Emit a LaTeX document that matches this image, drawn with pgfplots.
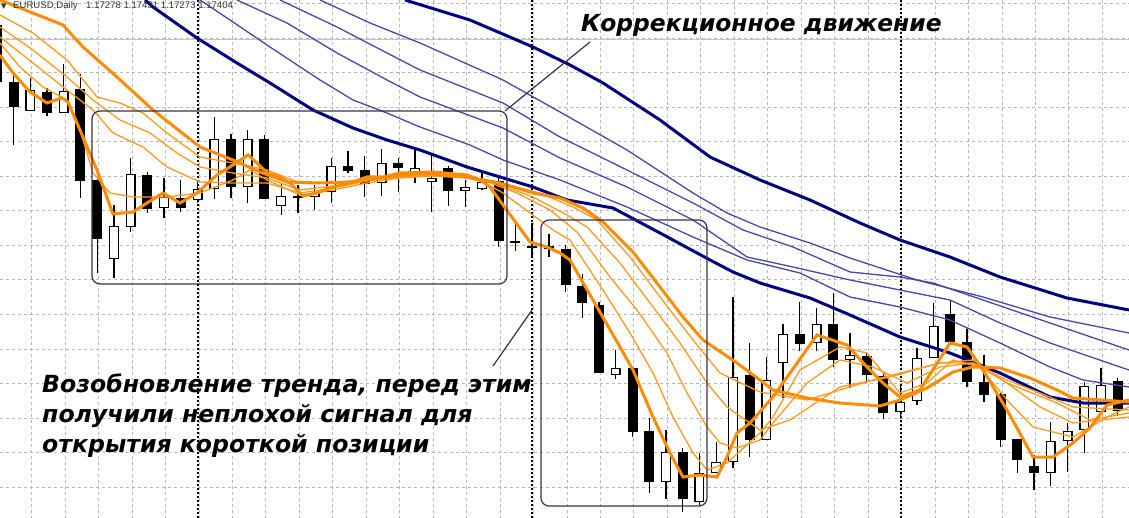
\documentclass[border=0pt]{standalone}
\usepackage{fontspec}
\setmainfont{Liberation Sans}
\newfontfamily\notefont{DejaVu Sans}
\newfontfamily\symfont{DejaVu Sans}
\usepackage{pgfplots}
\usepackage{pgfplotstable}
\pgfplotsset{compat=1.18}

\definecolor{maorange}{HTML}{FF8C00}
\definecolor{mathin}{HTML}{FF9A1E}
\definecolor{manavy}{HTML}{000080}
\definecolor{mablue}{HTML}{4848AA}
\definecolor{boxline}{HTML}{3C3050}
\definecolor{gridgray}{HTML}{B8B8B8}

% candles: k = bar index, o h l c = prices read in screen units (down = larger)
\pgfplotstableread{
k  o   h   l   c
-1 25  15  90  82
0  82  75  145 107
2  92  88  116 113
4  89  74  198 181
5  180 178 273 239
8  175 172 213 209
10 198 180 212 208
13 139 134 198 187
15 139 135 199 199
17 196 185 213 198
20 166 151 173 171
21 170 156 197 184
23 163 158 192 168
26 168 166 206 191
29 181 177 247 241
30 241 224 251 243
31 246 223 256 248
32 246 234 257 249
33 249 245 292 285
34 286 274 318 303
35 305 302 373 373
37 368 367 437 432
38 431 418 493 482
40 452 448 512 499
44 375 343 457 440
47 334 302 351 344
49 324 293 367 360
51 356 353 383 375
52 376 372 419 413
56 314 300 342 342
57 342 329 387 382
58 382 355 402 395
59 394 392 447 440
60 439 439 473 460
61 466 455 490 473
66 381 378 416 411
}\bear

\pgfplotstableread{
k  o   h   l   c
1  111 78  111 90
3  113 64  113 91
6  259 205 278 226
7  227 158 232 174
9  208 178 218 197
11 200 182 203 189
12 189 117 199 139
14 187 130 203 139
16 206 183 215 196
18 197 185 210 193
19 192 158 203 166
22 183 149 196 163
24 176 150 183 168
25 182 155 212 178
27 191 180 207 187
28 189 173 190 182
36 375 350 379 368
39 482 430 499 452
41 502 453 505 473
42 473 442 473 462
43 462 297 468 377
45 440 357 440 380
46 363 324 398 334
48 343 308 351 324
50 360 333 388 355
53 412 385 419 402
54 401 348 405 358
55 358 303 358 326
62 473 422 486 441
63 441 423 472 431
64 430 382 453 386
65 412 368 412 385
}\bull

\begin{document}
\begin{tikzpicture}
\begin{axis}[
  width=1129pt, height=518pt, scale only axis,
  xmin=0, xmax=1129, ymin=0, ymax=518, y dir=reverse,
  axis line style={draw=none}, xtick=\empty, ytick=\empty,
  clip=true,
]

% chart grid, period separators and the horizontal line
\pgfplotsinvokeforeach{0,...,33}{
  \draw[gridgray, line width=1pt, dash pattern=on 3pt off 3pt]
    ({31.7+33.46*#1},0) -- ({31.7+33.46*#1},518);}
\pgfplotsinvokeforeach{0,...,14}{
  \draw[gridgray, line width=1pt, dash pattern=on 3pt off 3pt]
    (0,{3.5+34.55*#1}) -- (1129,{3.5+34.55*#1});}
\draw[gridgray!80, line width=1pt] (0,40) -- (1129,40);
\pgfplotsinvokeforeach{198,532,901}{
  \draw[black, line width=1.2pt, dash pattern=on 2pt off 2pt] (#1,0) -- (#1,518);}

% wicks
\addplot[draw=none, mark=none, forget plot,
  error bars/.cd, y dir=both, y explicit, error mark=none,
  error bar style={draw=black, line width=1.3pt}]
  table[x expr=13.5+16.73*\thisrow{k}, y expr=(\thisrow{h}+\thisrow{l})/2,
        y error expr=(\thisrow{l}-\thisrow{h})/2] {\bear};
\addplot[draw=none, mark=none, forget plot,
  error bars/.cd, y dir=both, y explicit, error mark=none,
  error bar style={draw=black, line width=1.3pt}]
  table[x expr=13.5+16.73*\thisrow{k}, y expr=(\thisrow{h}+\thisrow{l})/2,
        y error expr=(\thisrow{l}-\thisrow{h})/2] {\bull};

% bodies
\addplot[draw=none, mark=none, forget plot,
  error bars/.cd, y dir=both, y explicit, error mark=none,
  error bar style={draw=black, line width=10pt}]
  table[x expr=13.5+16.73*\thisrow{k}, y expr=(\thisrow{o}+\thisrow{c})/2,
        y error expr={max(abs(\thisrow{o}-\thisrow{c})/2,1)}] {\bear};
\addplot[draw=none, mark=none, forget plot,
  error bars/.cd, y dir=both, y explicit, error mark=none,
  error bar style={draw=black, line width=10pt}]
  table[x expr=13.5+16.73*\thisrow{k}, y expr=(\thisrow{o}+\thisrow{c})/2,
        y error expr={max(abs(\thisrow{o}-\thisrow{c})/2,1.5)}] {\bull};
\addplot[draw=none, mark=none, forget plot,
  error bars/.cd, y dir=both, y explicit, error mark=none,
  error bar style={draw=white, line width=7.4pt}]
  table[x expr=13.5+16.73*\thisrow{k}, y expr=(\thisrow{o}+\thisrow{c})/2,
        y error expr={max(abs(\thisrow{o}-\thisrow{c})/2-1.3,0.2)}] {\bull};

% slow moving averages
\addplot[mablue, line width=1.3pt] coordinates {(320,0) (370,23) (420,43) (503,80) (560,112) (627,150) (693,193) (727,213) (760,227) (810,243) (850,258) (917,280) (983,297) (1050,317) (1129,333)};
\addplot[mablue, line width=1.3pt] coordinates {(280,0) (337,27) (387,53) (420,70) (503,103) (560,137) (627,170) (693,203) (743,230) (793,247) (850,272) (900,277) (933,283) (983,300) (1050,323) (1129,350)};
\addplot[mablue, line width=1.3pt] coordinates {(237,0) (287,23) (337,53) (387,80) (420,97) (503,128) (560,158) (627,187) (693,220) (747,257) (793,267) (850,280) (900,290) (950,300) (1000,323) (1050,343) (1129,370)};
\addplot[mablue, line width=1.3pt] coordinates {(200,0) (230,20) (270,47) (320,80) (353,100) (387,113) (420,127) (470,145) (503,160) (560,180) (627,207) (693,237) (747,260) (800,273) (850,297) (900,307) (950,320) (1000,343) (1050,367) (1083,380) (1129,387)};
\addplot[manavy, line width=3pt] coordinates {(405,0) (470,20) (533,47) (570,65) (603,83) (660,120) (710,157) (760,180) (810,200) (860,223) (900,240) (950,257) (1000,277) (1067,298) (1129,310)};
\addplot[manavy, line width=3pt] coordinates {(145,0) (153,7) (197,38) (237,63) (270,83) (313,110) (353,128) (387,140) (420,150) (467,167) (500,177) (533,187) (567,200) (613,208) (660,233) (710,260) (733,272) (760,283) (810,298) (850,315) (900,337) (950,353) (1000,373) (1050,397) (1083,403) (1129,403)};

% fast moving averages
\addplot[mathin, line width=1.3pt] coordinates {(0,43) (20,67) (43,87) (67,100) (80,130) (93,173) (110,193) (133,197) (167,197) (200,193) (233,180) (250,170) (267,180) (300,195) (333,190) (367,183) (400,178) (433,176) (467,178) (483,182) (503,193) (530,213) (553,230) (570,240) (603,290) (630,333) (653,373) (673,417) (693,453) (707,470) (727,463) (760,433) (773,417) (800,370) (840,347) (867,353) (900,393) (927,383) (953,360) (980,367) (1007,400) (1033,427) (1073,437) (1107,417) (1129,407)};
\addplot[mathin, line width=1.3pt] coordinates {(0,37) (33,63) (67,90) (93,110) (113,133) (143,147) (167,167) (200,182) (233,183) (267,183) (300,193) (333,188) (367,181) (400,177) (433,175) (467,177) (483,180) (517,193) (550,210) (577,232) (610,277) (637,310) (667,353) (687,393) (707,427) (720,443) (737,448) (760,440) (773,423) (807,383) (840,360) (873,367) (907,383) (940,367) (973,363) (1007,383) (1040,407) (1073,423) (1129,417)};
\addplot[mathin, line width=1.3pt] coordinates {(0,27) (33,50) (67,77) (93,100) (120,120) (150,133) (177,153) (200,167) (233,173) (267,178) (300,190) (333,186) (367,180) (400,176) (433,175) (467,177) (487,180) (533,197) (567,215) (587,227) (620,263) (653,307) (680,343) (707,383) (727,407) (760,430) (790,420) (840,387) (890,377) (940,363) (973,360) (1007,383) (1057,403) (1090,420) (1129,413)};
\addplot[mathin, line width=1.3pt] coordinates {(0,15) (33,33) (67,60) (97,97) (120,103) (143,113) (167,133) (200,157) (233,163) (267,170) (300,183) (333,183) (367,179) (400,176) (433,175) (467,177) (493,181) (540,193) (573,207) (597,220) (630,257) (660,297) (693,340) (720,373) (760,392) (807,400) (873,380) (940,363) (973,363) (1007,380) (1040,393) (1073,407) (1129,410)};
\addplot[maorange, line width=3pt] coordinates {(0,0) (63,25) (83,47) (117,77) (153,110) (200,147) (233,160) (260,172) (287,182) (320,183) (353,182) (387,177) (420,173) (460,176) (500,183) (533,193) (560,198) (583,208) (603,222) (633,252) (660,287) (683,317) (703,340) (737,363) (760,380) (773,390) (807,398) (840,403) (880,406) (900,400) (927,388) (953,372) (973,367) (1000,368) (1030,378) (1057,390) (1073,398) (1129,402)};
\addplot[maorange, line width=3pt] coordinates {(0,55) (13,73) (30,92) (47,103) (62,98) (68,102) (83,137) (97,170) (113,214) (133,212) (147,203) (163,193) (180,203) (197,193) (217,175) (233,165) (248,155) (257,163) (267,173) (280,177) (290,183) (303,196) (317,193) (330,188) (350,183) (367,177) (383,177) (400,173) (433,172) (467,175) (480,180) (490,187) (530,242) (547,247) (560,253) (570,260) (597,307) (620,347) (633,370) (653,417) (670,453) (683,477) (700,475) (717,477) (727,457) (737,433) (750,423) (773,397) (817,335) (847,345) (867,367) (883,383) (900,397) (920,390) (950,343) (967,347) (983,370) (1007,410) (1033,457) (1053,457) (1073,443) (1090,428) (1107,405) (1129,400)};

% annotations
\draw[boxline, line width=1.2pt, rounded corners=8pt] (92,111) rectangle (507,284);
\draw[boxline, line width=1.2pt, rounded corners=8pt] (541,220) rectangle (707,506);
\draw[boxline, line width=1.2pt] (505,111) -- (590,42);
\draw[boxline, line width=1.2pt] (493,366) -- (532,310);

\node[anchor=base west, inner sep=0pt, text=black,
  font=\notefont\bfseries\itshape\fontsize{23.4}{28}\selectfont] at (581,32) {Коррекционное движение};
\node[anchor=base west, inner sep=0pt, text=black,
  font=\notefont\bfseries\itshape\fontsize{23.6}{28}\selectfont] at (42,392) {Возобновление тренда, перед этим};
\node[anchor=base west, inner sep=0pt, text=black,
  font=\notefont\bfseries\itshape\fontsize{23.6}{28}\selectfont] at (42,422) {получили неплохой сигнал для};
\node[anchor=base west, inner sep=0pt, text=black,
  font=\notefont\bfseries\itshape\fontsize{23.6}{28}\selectfont] at (42,452) {открытия короткой позиции};

\node[anchor=base west, inner sep=0pt, text=black!80,
  font=\symfont\fontsize{7}{8}\selectfont] at (1,8.5) {▼};
\node[anchor=base west, inner sep=0pt, text=black!80,
  font=\fontsize{9.6}{11}\selectfont] at (13,8.5) {EURUSD,Daily};
\node[anchor=base west, inner sep=0pt, text=black!80,
  font=\fontsize{9.6}{11}\selectfont] at (86,8.5) {1.17278 1.17431 1.17273 1.17404};
\end{axis}
\pgfresetboundingbox
\path[use as bounding box] (current axis.south west) rectangle (current axis.north east);
\end{tikzpicture}
\end{document}
